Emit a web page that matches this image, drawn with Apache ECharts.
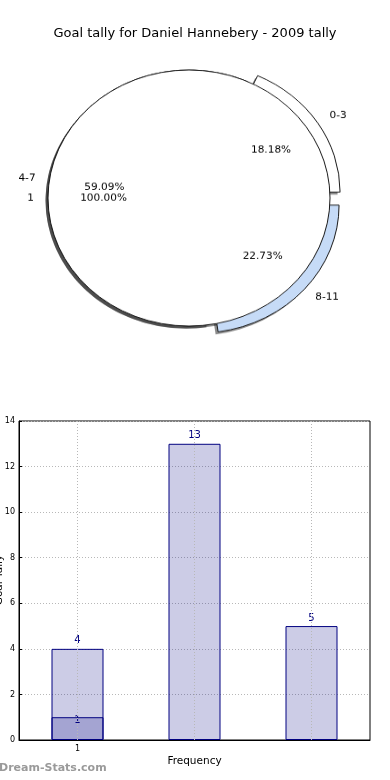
<!DOCTYPE html>
<html>
<head>
<meta charset="utf-8">
<script src="https://cdn.jsdelivr.net/npm/echarts@6/dist/echarts.min.js"></script>
<style>
  html, body { margin: 0; padding: 0; background: #fff; }
  #bar { position: absolute; left: 0; top: 0; width: 390px; height: 780px; }
  #pie { position: absolute; left: 0; top: 0; width: 390px; height: 400px;
         transform-origin: 189px 198px; transform: scaleY(0.908); }
</style>
</head>
<body>
<div id="bar"></div>
<div id="pie"></div>
<script>
// ---- data ----
const titleText = 'Goal tally for Daniel Hannebery - 2009 tally';
const yAxisName = 'Goal Tally';
const pieCategories = ['0-3', '4-7', '8-11'];
const pieValues = [4, 13, 5];
const pieExplode = [true, false, true];
const totalCategories = ['1'];
const totalValues = [1];
const barCategories = ['0-3', '4-7', '8-11'];
const barValues = [4, 13, 5];
const overlayValues = [1, null, null];
const tickLabels = ['1', '', ''];
const yMin = 0, yMax = 14, yInterval = 2;

// ---- styles ----
const FONT = 'DejaVu Sans';
const pieColors = ['#ffffff', '#ffffff', '#c6dbf7'];
const CX = 189, CY = 198, R = 141;
const SHADOW_DX = -2.5, SHADOW_DY = 2.8;
const shadowColor = 'rgba(0,0,0,0.45)';

const sectorStyle = { borderColor: '#1a1a1a', borderWidth: 1 };
const outsideLabel = {
  show: true, position: 'outside', formatter: '{b}', fontFamily: FONT, fontSize: 10.5,
  color: '#000', distanceToLabelLine: 0
};
const pieCommon = {
  type: 'pie', center: [CX, CY], startAngle: 0, clockwise: false,
  avoidLabelOverlap: false, animation: false, emphasis: { disabled: true },
  selectedMode: 'multiple', selectedOffset: 12
};
const pctLabel = {
  show: true, position: 'inside', rotate: 0, fontFamily: FONT, fontSize: 10.5, color: '#000',
  formatter: p => p.percent.toFixed(2) + '%'
};
const shadowSeries = (cats, vals, expl) => Object.assign({}, pieCommon, {
  z: 1, radius: R, silent: true, center: [CX + SHADOW_DX, CY + SHADOW_DY],
  itemStyle: { color: shadowColor, borderWidth: 0 },
  label: { show: false }, labelLine: { show: false },
  data: cats.map((c, i) => ({ name: c, value: vals[i], selected: expl ? expl[i] : false }))
});

const pieChart = echarts.init(document.getElementById('pie'));
pieChart.setOption({
  animation: false,
  series: [
    shadowSeries(pieCategories, pieValues, pieExplode),
    shadowSeries(totalCategories, totalValues, null),
    Object.assign({}, pieCommon, {
      z: 2, radius: R,
      itemStyle: sectorStyle,
      label: outsideLabel,
      labelLine: { show: false, length: 14, length2: 0 },
      data: pieCategories.map((c, i) => ({
        name: c, value: pieValues[i], selected: pieExplode[i],
        itemStyle: { color: pieColors[i] }
      }))
    }),
    Object.assign({}, pieCommon, {
      z: 3, radius: R,
      itemStyle: sectorStyle,
      label: outsideLabel,
      labelLine: { show: false, length: 14, length2: 0 },
      data: totalCategories.map((c, i) => ({
        name: c, value: totalValues[i], itemStyle: { color: '#ffffff' }
      }))
    }),
    Object.assign({}, pieCommon, {
      z: 4, radius: [76, 89], silent: true,
      itemStyle: { color: 'transparent', borderWidth: 0 },
      label: pctLabel, labelLine: { show: false },
      data: pieCategories.map((c, i) => ({ name: c, value: pieValues[i], selected: pieExplode[i] }))
    }),
    Object.assign({}, pieCommon, {
      z: 4, radius: [76, 89], silent: true,
      itemStyle: { color: 'transparent', borderWidth: 0 },
      label: pctLabel, labelLine: { show: false },
      data: totalCategories.map((c, i) => ({ name: c, value: totalValues[i] }))
    })
  ]
});

const barChart = echarts.init(document.getElementById('bar'));
const barFill = 'rgba(0,0,128,0.2)';
barChart.setOption({
  animation: false,
  title: {
    text: titleText, left: 'center', top: 22,
    textStyle: { fontFamily: FONT, fontSize: 13, fontWeight: 'normal', color: '#000' }
  },
  graphic: [
    {
      type: 'text', left: -1, top: 763,
      style: { text: 'Dream-Stats.com', fontFamily: FONT, fontSize: 11, fontWeight: 'bold', fill: '#9a9a9a' }
    },
    {
      type: 'text', x: -1, y: 580, rotation: Math.PI / 2,
      style: { text: yAxisName, fontFamily: FONT, fontSize: 10.5, fill: '#000', align: 'center', verticalAlign: 'middle' }
    }
  ],
  grid: {
    left: 19, right: 20, top: 421, bottom: 40, containLabel: false, outerBoundsMode: 'none',
    show: true, borderColor: '#000', borderWidth: 1
  },
  xAxis: {
    type: 'category', data: barCategories,
    name: 'Frequency', nameLocation: 'middle', nameGap: 16, nameMoveOverlap: false,
    nameTextStyle: { fontFamily: FONT, fontSize: 10.5, color: '#000' },
    axisLine: { lineStyle: { color: '#000' } },
    axisTick: { show: false },
    axisLabel: { fontFamily: FONT, fontSize: 8, color: '#000', margin: 5, formatter: (v, i) => tickLabels[i] },
    splitLine: { show: false }
  },
  yAxis: {
    type: 'value', min: yMin, max: yMax, interval: yInterval,
    axisLine: { show: true, lineStyle: { color: '#000' } },
    axisTick: { show: true, inside: true, length: 3, lineStyle: { color: '#000' } },
    axisLabel: { fontFamily: FONT, fontSize: 8, color: '#000', margin: 4 },
    splitLine: { show: true, lineStyle: { color: '#b8b8b8', type: [1, 2], width: 1 } }
  },
  series: [
    {
      type: 'bar', data: barValues, barWidth: 52,
      itemStyle: { color: barFill, borderColor: '#000080', borderWidth: 1 },
      label: { show: true, position: 'top', distance: 3, fontFamily: FONT, fontSize: 10, color: '#000080' },
      markLine: {
        silent: true, symbol: ['none', 'none'], label: { show: false },
        lineStyle: { color: '#b8b8b8', type: [1, 2], width: 1 },
        data: barCategories.map(c => ({ xAxis: c }))
      },
      z: 2
    },
    {
      type: 'bar', data: overlayValues, barWidth: 52, barGap: '-100%',
      itemStyle: { color: barFill, borderColor: '#000080', borderWidth: 1 },
      label: { show: true, position: 'top', distance: -8, fontFamily: FONT, fontSize: 10, color: '#000080' },
      z: 3
    }
  ]
});
</script>
</body>
</html>
